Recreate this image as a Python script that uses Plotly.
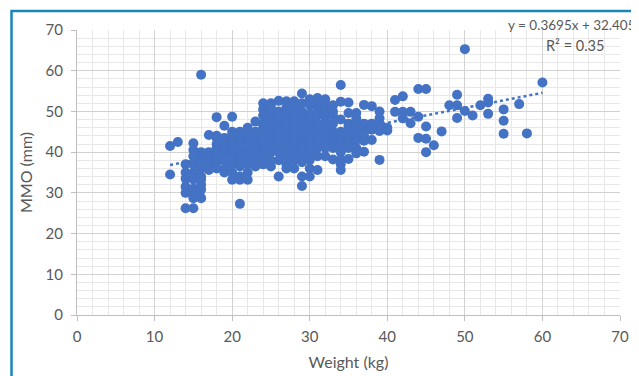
import plotly.graph_objects as go

# Weight (kg) / MMO (mm) readings, grouped by weight column
weight = []
mmo = []
columns = {
    12: [41.5, 34.5],
    13: [42.5],
    14: [37, 33.5, 31.5, 26.2, 30, 35],
    15: [42.2, 40.5, 39, 37, 35, 33.3, 31, 29.5, 28.7, 26.2],
    16: [59, 40, 39, 38, 36, 34, 33.3, 32, 30.8, 28.7],
    17: [44.2, 40, 39, 38, 37, 35.6],
    18: [48.6, 44, 43.5, 42, 41, 40, 39, 37.5, 36],
    19: [46.5, 43.5, 42.5, 41, 40, 38, 36, 35],
    20: [48.7, 45, 44, 43, 42, 41, 40.5, 39, 38, 37, 35, 33.2],
    21: [45, 43.5, 42, 40, 39, 38, 36.5, 34, 33.2, 27.3],
    22: [46, 44, 43, 42, 41, 40, 39, 37, 35, 33.2],
    23: [47.5, 45, 44, 43, 42, 41, 40, 38, 36.5],
    24: [52, 50.5, 49, 47, 46, 45, 44, 43, 41, 40, 39, 37],
    25: [52, 51, 49.5, 48, 46, 45, 44, 43, 42, 41, 40, 38, 36.5],
    26: [52.6, 50, 49, 48, 47, 46, 45, 44, 43, 42, 41, 40, 38, 34],
    27: [52.5, 51, 50, 48.5, 47, 46, 45, 44, 43, 42, 41, 39, 37, 36],
    28: [52.5, 51, 49.5, 48, 47, 46, 45, 44, 43, 42, 41, 40, 38, 36],
    29: [54.4, 52, 50, 48.5, 47, 46, 45, 44, 43, 42, 41, 39, 37.5, 34, 31.7],
    30: [53, 51.6, 49.5, 48, 47, 46, 45, 44, 43, 42, 41, 40, 38, 36, 34],
    31: [53.3, 51.5, 50.5, 49, 47, 46, 45, 44, 43, 42, 41, 39, 35.6],
    32: [53, 51.6, 50, 48.5, 47, 46, 45, 44, 43, 42, 41, 39],
    33: [51.5, 50, 49, 47, 45, 44, 43, 42, 41, 38.2],
    34: [56.5, 52.4, 48, 45, 44, 43, 42, 41, 40, 38.1, 37, 35.6],
    35: [52.2, 49.6, 47, 46.3, 45, 44, 43, 42, 41, 38.3],
    36: [49.6, 48.3, 47, 45, 44, 43, 41, 39.7],
    37: [51.6, 47, 45, 44, 42.8, 40.1],
    38: [51.3, 47, 46, 45.5, 43],
    39: [50, 48.3, 47, 46, 45.2, 38.1],
    40: [45.3, 46],
    41: [52.8, 49.9],
    42: [53.7, 49.9, 48.3],
    43: [49.9, 47.1],
    44: [55.5, 48.7, 43.5],
    45: [55.5, 46.3, 43.3, 40],
    46: [41.7],
    47: [45.1],
    48: [51.5],
    49: [54.1, 51.5, 48.4],
    50: [65.3, 50.1],
    51: [49],
    52: [51.5],
    53: [53.1, 52.2, 49.4],
    55: [50.5, 47.7, 44.5],
    57: [51.8],
    58: [44.6],
    60: [57.1],
}
for wx, ys in columns.items():
    for yv in ys:
        weight.append(wx)
        mmo.append(yv)

slope = 0.3695
intercept = 32.405
trend_x = [min(weight), max(weight)]
trend_y = [slope * v + intercept for v in trend_x]

x_ticks = [0, 10, 20, 30, 40, 50, 60, 70]
y_ticks = [0, 10, 20, 30, 40, 50, 60, 70]

BLUE = "#4472C4"
TXT = "#595959"
FONT = "Lato"

fig = go.Figure()
fig.add_trace(go.Scatter(
    x=weight, y=mmo, mode="markers",
    marker=dict(color=BLUE, size=10, line=dict(width=0)),
    showlegend=False, cliponaxis=False,
))
fig.add_trace(go.Scatter(
    x=trend_x, y=trend_y, mode="lines",
    line=dict(color=BLUE, width=2.5, dash="dot"),
    showlegend=False,
))

axis_common = dict(
    showgrid=True, gridcolor="#d2d2d2", gridwidth=1.3,
    minor=dict(dtick=2, showgrid=True, gridcolor="#e8e8e8", gridwidth=1),
    showline=True, linecolor="#bfbfbf", linewidth=1.3,
    ticks="outside", ticklen=5, tickcolor="#bfbfbf",
    tickfont=dict(family=FONT, size=15, color=TXT),
    zeroline=False, dtick=10, range=[0, 70], automargin=False,
)

fig.update_xaxes(**axis_common, tickvals=x_ticks, ticklabelstandoff=3,
                 title=dict(text="Weight (kg)", font=dict(family=FONT, size=16, color=TXT), standoff=12))
fig.update_yaxes(**axis_common, tickvals=y_ticks, ticklabelstandoff=5,
                 title=dict(text="MMO (mm)", font=dict(family=FONT, size=16, color=TXT), standoff=8))

# chart frame (paper coords relative to plot area)
fig.add_shape(type="rect", xref="paper", yref="paper",
              x0=-0.1206, x1=1.08, y0=-0.27, y1=1.0667,
              line=dict(color="#1a86b8", width=2.5), layer="below")

fig.add_annotation(text="y = 0.3695x + 32.405", xref="paper", yref="paper",
                   x=0.7895, y=1.0175, xanchor="left", yanchor="middle",
                   showarrow=False, font=dict(family=FONT, size=13.5, color=TXT))
fig.add_annotation(text="R² = 0.35", xref="paper", yref="paper",
                   x=0.860, y=0.947, xanchor="left", yanchor="middle",
                   showarrow=False, font=dict(family=FONT, size=14.5, color=TXT))

# page body adds an 8px margin, so the figure is 8px smaller on each side
fig.update_layout(
    width=631, height=368,
    margin=dict(l=69, r=19, t=22, b=61),
    paper_bgcolor="white", plot_bgcolor="white",
    font=dict(family=FONT, color=TXT),
)

fig.write_html("out.html")
